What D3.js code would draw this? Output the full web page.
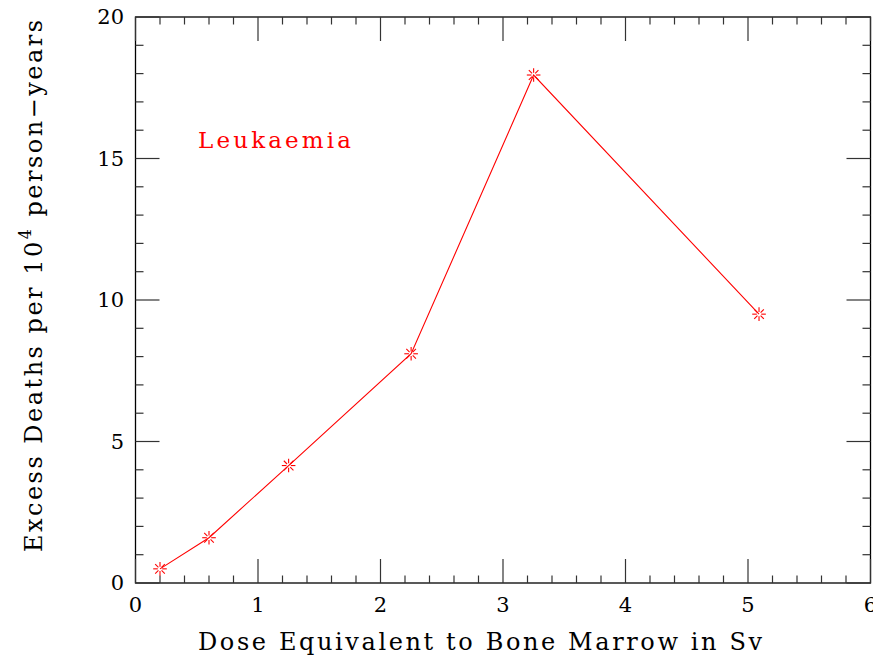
<!DOCTYPE html>
<html>
<head>
<meta charset="utf-8">
<script src="https://cdn.jsdelivr.net/npm/d3@7"></script>
<style>
  body { margin: 0; background: #fff; }
  text { font-family: "DejaVu Serif", "Liberation Serif", serif; }
</style>
</head>
<body>
<svg id="chart" width="873" height="657"></svg>
<script>
const width = 873;
const height = 657;

// data
const dose = [0.2, 0.6, 1.25, 2.25, 3.25, 5.09];
const deaths = [0.5, 1.6, 4.15, 8.1, 17.95, 9.5];
const xTicks = [0, 1, 2, 3, 4, 5, 6];
const yTicks = [0, 5, 10, 15, 20];
const seriesName = "Leukaemia";

const margin = { left: 135.5, right: 2.5, top: 17, bottom: 74 };
const svg = d3.select("#chart");

const x = d3.scaleLinear().domain([0, 6]).range([margin.left, width - margin.right]);
const y = d3.scaleLinear().domain([0, 20]).range([height - margin.bottom, margin.top]);

const x0 = x.range()[0], x1 = x.range()[1];
const y0 = y.range()[0], y1 = y.range()[1];

// frame
svg.append("rect")
    .attr("x", x0).attr("y", y1)
    .attr("width", x1 - x0).attr("height", y0 - y1)
    .attr("fill", "none").attr("stroke", "#000").attr("stroke-width", 1.3);

const tickColor = "#333";
// x ticks, bottom and top
const xMinor = d3.range(0, 6.001, 0.2);
xMinor.forEach(v => {
    const major = Math.abs(v - Math.round(v)) < 1e-6;
    const len = major ? 24 : 7.5;
    svg.append("line").attr("x1", x(v)).attr("x2", x(v))
        .attr("y1", y0).attr("y2", y0 - len).attr("stroke", tickColor).attr("stroke-width", 1.2);
    svg.append("line").attr("x1", x(v)).attr("x2", x(v))
        .attr("y1", y1).attr("y2", y1 + len).attr("stroke", tickColor).attr("stroke-width", 1.2);
});
// y ticks, left and right
const yMinor = d3.range(0, 20.001, 1);
yMinor.forEach(v => {
    const major = v % 5 === 0;
    const len = major ? 24 : 8;
    svg.append("line").attr("y1", y(v)).attr("y2", y(v))
        .attr("x1", x0).attr("x2", x0 + len).attr("stroke", tickColor).attr("stroke-width", 1.2);
    svg.append("line").attr("y1", y(v)).attr("y2", y(v))
        .attr("x1", x1).attr("x2", x1 - len).attr("stroke", tickColor).attr("stroke-width", 1.2);
});

// tick labels
svg.selectAll(".xl").data(xTicks).enter().append("text")
    .attr("x", d => x(d)).attr("y", 612)
    .attr("text-anchor", "middle")
    .attr("font-size", 21)
    .text(d => d);
svg.selectAll(".yl").data(yTicks).enter().append("text")
    .attr("x", 124).attr("y", d => y(d) + 7)
    .attr("text-anchor", "end")
    .attr("font-size", 21)
    .text(d => d);

// axis titles
svg.append("text")
    .attr("x", 198).attr("y", 650)
    .attr("font-size", 24)
    .attr("textLength", 564).attr("lengthAdjust", "spacing")
    .text("Dose Equivalent to Bone Marrow in Sv");

const yLab = svg.append("text")
    .attr("transform", "translate(42,552) rotate(-90)")
    .attr("font-size", 24)
    .attr("textLength", 532).attr("lengthAdjust", "spacing");
yLab.append("tspan").text("Excess Deaths per 10");
yLab.append("tspan").attr("dy", -11).attr("font-size", 16).text("4");
yLab.append("tspan").attr("dy", 11).text(" person\u2212years");

// series line
const line = d3.line().x((d, i) => x(dose[i])).y(d => y(d));
svg.append("path")
    .datum(deaths)
    .attr("d", line)
    .attr("fill", "none")
    .attr("stroke", "#ff0000")
    .attr("stroke-width", 1.1);

// asterisk markers with an open centre
const rays = d3.range(8).map(k => k * Math.PI / 4);
const pts = deaths.map((d, i) => [x(dose[i]), y(d)]);
pts.forEach(([px, py]) => {
    const g = svg.append("g").attr("transform", `translate(${px},${py})`);
    rays.forEach(a => {
        g.append("line")
            .attr("x1", 2.2 * Math.cos(a)).attr("y1", 2.2 * Math.sin(a))
            .attr("x2", 6.8 * Math.cos(a)).attr("y2", 6.8 * Math.sin(a))
            .attr("stroke", "#ff0000").attr("stroke-width", 1.1);
    });
});

// label
svg.append("text")
    .attr("x", 198).attr("y", 148)
    .attr("font-size", 23)
    .attr("fill", "#ff0000")
    .attr("textLength", 153).attr("lengthAdjust", "spacing")
    .text(seriesName);
</script>
</body>
</html>
